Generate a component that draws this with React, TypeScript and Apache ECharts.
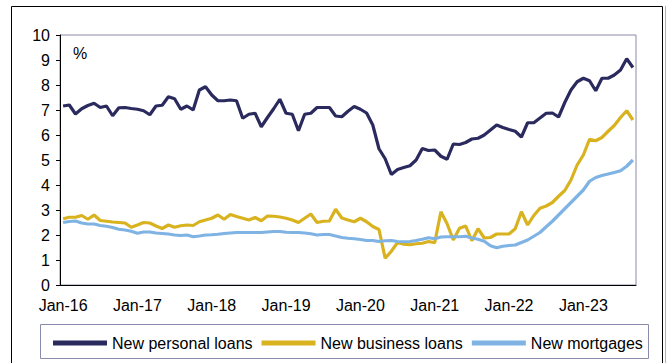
import React, { useEffect, useRef } from "react";
import * as echarts from "echarts";

const MONTHS = ["Jan", "Feb", "Mar", "Apr", "May", "Jun", "Jul", "Aug", "Sep", "Oct", "Nov", "Dec"];
const YEARS = ["16", "17", "18", "19", "20", "21", "22", "23"];
const LAST_MONTH_2023 = 9; // data run to Sep-23

const categories: string[] = [];
YEARS.forEach((y) => {
  MONTHS.forEach((m, mi) => {
    if (y === "23" && mi >= LAST_MONTH_2023) return;
    categories.push(`${m}-${y}`);
  });
});

const personalLoans = [
  7.16, 7.2, 6.84, 7.05, 7.18, 7.27, 7.1, 7.16, 6.77, 7.09, 7.1, 7.06,
  7.03, 6.97, 6.81, 7.16, 7.19, 7.53, 7.45, 7.03, 7.16, 7.0, 7.8, 7.93,
  7.6, 7.37, 7.37, 7.4, 7.37, 6.67, 6.83, 6.87, 6.33, 6.7, 7.05, 7.43,
  6.87, 6.83, 6.17, 6.83, 6.87, 7.1, 7.1, 7.1, 6.76, 6.73, 6.95, 7.14,
  7.03, 6.88, 6.4, 5.45, 5.05, 4.42, 4.62, 4.7, 4.77, 5.0, 5.46, 5.38,
  5.4, 5.15, 5.03, 5.64, 5.62, 5.7, 5.84, 5.87, 6.0, 6.2, 6.4, 6.3,
  6.22, 6.15, 5.92, 6.49, 6.49, 6.68, 6.87, 6.88, 6.72, 7.3, 7.8, 8.13,
  8.27, 8.17, 7.77, 8.27, 8.27, 8.4, 8.6, 9.05, 8.7,
];

const businessLoans = [
  2.65, 2.71, 2.71, 2.78, 2.63, 2.8, 2.58, 2.55, 2.52, 2.5, 2.48, 2.31,
  2.4, 2.5, 2.48, 2.36, 2.26, 2.4, 2.31, 2.37, 2.4, 2.38, 2.53, 2.6,
  2.67, 2.8, 2.63, 2.82, 2.74, 2.67, 2.6, 2.7, 2.57, 2.76, 2.75, 2.72,
  2.67, 2.6, 2.5, 2.67, 2.84, 2.5, 2.55, 2.56, 3.03, 2.68, 2.6, 2.53,
  2.67, 2.53, 2.34, 2.22, 1.07, 1.35, 1.7, 1.63, 1.61, 1.65, 1.67, 1.74,
  1.69, 2.93, 2.45, 1.8, 2.27, 2.36, 1.77, 2.25, 1.88, 1.9, 2.04, 2.04,
  2.04, 2.25, 2.93, 2.4, 2.78, 3.07, 3.16, 3.3, 3.55, 3.78, 4.2, 4.8,
  5.2, 5.83, 5.77, 5.9, 6.15, 6.38, 6.7, 6.97, 6.6,
];

const mortgages = [
  2.5, 2.54, 2.56, 2.48, 2.44, 2.44, 2.38, 2.35, 2.3, 2.23, 2.2, 2.15,
  2.07, 2.12, 2.12, 2.08, 2.06, 2.04, 2.0, 1.98, 2.0, 1.93, 1.96, 2.0,
  2.01, 2.03, 2.06, 2.08, 2.1, 2.1, 2.1, 2.1, 2.1, 2.12, 2.14, 2.14,
  2.11, 2.1, 2.1, 2.08, 2.05, 2.0, 2.02, 2.02, 1.96, 1.9, 1.87, 1.85,
  1.82, 1.78, 1.78, 1.74, 1.77, 1.78, 1.74, 1.73, 1.74, 1.78, 1.83, 1.89,
  1.85, 1.92, 1.93, 1.93, 1.93, 1.95, 1.88, 1.83, 1.75, 1.57, 1.49, 1.55,
  1.58, 1.6, 1.7, 1.8, 1.95, 2.1, 2.33, 2.55, 2.8, 3.05, 3.3, 3.55,
  3.8, 4.15, 4.3, 4.38, 4.44, 4.5, 4.57, 4.75, 5.0,
];

const yTicks = { min: 0, max: 10, interval: 1 };
const SERIES_NAMES = ["New personal loans", "New business loans", "New mortgages"];
const COLORS = ["#2b2a5e", "#d9b21f", "#7fb3e3"];
const FONT = "'Liberation Sans', Arial, sans-serif";

export default function App() {
  const ref = useRef<HTMLDivElement>(null);
  useEffect(() => {
    if (!ref.current) return;
    const chart = echarts.init(ref.current, undefined, { renderer: "svg" });
    const data = [personalLoans, businessLoans, mortgages];
    chart.setOption({
      animation: false,
      backgroundColor: "#ffffff",
      textStyle: { fontFamily: FONT },
      grid: {
        left: 60,
        top: 35,
        right: 31,
        bottom: 78,
        show: true,
        borderColor: "#8a8aaa",
        borderWidth: 1,
        backgroundColor: "transparent",
      },
      xAxis: {
        type: "category",
        data: categories,
        boundaryGap: true,
        axisLine: { show: true, lineStyle: { color: "#000", width: 1 } },
        axisTick: { show: false },
        axisLabel: {
          interval: 11,
          color: "#000",
          fontSize: 16,
          fontFamily: FONT,
          margin: 12,
        },
        splitLine: { show: false },
      },
      yAxis: {
        type: "value",
        min: yTicks.min,
        max: yTicks.max,
        interval: yTicks.interval,
        axisLine: { show: true, lineStyle: { color: "#000", width: 1 } },
        axisTick: { show: true, length: 4, lineStyle: { color: "#000" } },
        axisLabel: { color: "#000", fontSize: 16, fontFamily: FONT, margin: 10 },
        splitLine: { show: false },
      },
      legend: {
        data: SERIES_NAMES,
        left: 48,
        top: 330,
        icon: "rect",
        itemWidth: 54,
        itemHeight: 5,
        itemGap: 9,
        textStyle: { fontSize: 16, color: "#000", fontFamily: FONT },
      },
      graphic: [
        {
          type: "rect",
          shape: { x: 11.5, y: 6.5, width: 651, height: 400 },
          style: { fill: "none", stroke: "#000", lineWidth: 1 },
          silent: true,
        },
        {
          type: "line",
          shape: { x1: 665.5, y1: 6, x2: 665.5, y2: 363 },
          style: { stroke: "#b0b0b0", lineWidth: 1 },
          silent: true,
        },
        {
          type: "rect",
          shape: { x: 40.5, y: 324.5, width: 608, height: 34 },
          style: { fill: "none", stroke: "#8a8aaa", lineWidth: 1 },
          silent: true,
        },
        {
          type: "text",
          x: 73,
          y: 45,
          style: { text: "%", fontSize: 16, fill: "#000", fontFamily: FONT },
          silent: true,
        },
      ],
      series: SERIES_NAMES.map((name, i) => ({
        name,
        type: "line",
        data: data[i],
        showSymbol: false,
        symbol: "none",
        lineStyle: { color: COLORS[i], width: 3.2 },
        itemStyle: { color: COLORS[i] },
      })),
    });
    return () => chart.dispose();
  }, []);
  return (
    <div
      ref={ref}
      style={{ position: "absolute", left: 0, top: 0, width: 667, height: 363 }}
    />
  );
}
